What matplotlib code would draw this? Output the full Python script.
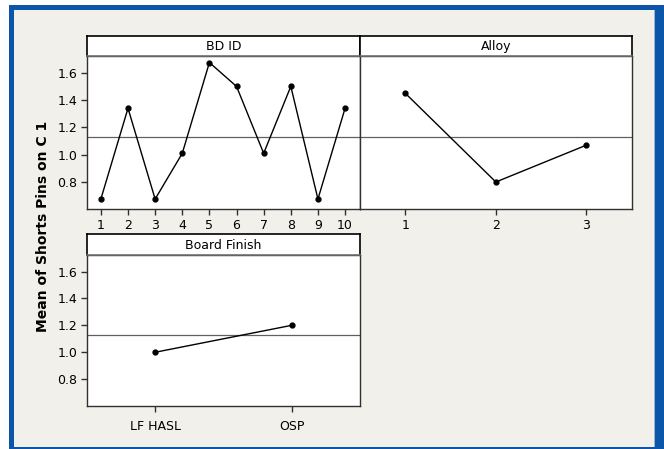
import numpy as np
import matplotlib
matplotlib.use('Agg')
import matplotlib.pyplot as plt
from matplotlib.patches import Rectangle

# main effects data
bd_ids = [1, 2, 3, 4, 5, 6, 7, 8, 9, 10]
bd_means = [0.675, 1.34, 0.675, 1.01, 1.675, 1.50, 1.01, 1.50, 0.675, 1.34]

alloys = [1, 2, 3]
alloy_means = [1.45, 0.80, 1.07]

finishes = ['LF HASL', 'OSP']
finish_means = [1.00, 1.20]

grand_mean = 1.128
y_ticks = [0.8, 1.0, 1.2, 1.4, 1.6]

W, H = 664, 449
fig = plt.figure(figsize=(W / 100, H / 100), dpi=100)
bg = '#F2F0EA'
blue = '#0B56A8'
fig.patch.set_facecolor('white')


def px(x0, y0, x1, y1):
    # pixel box (from top-left) -> figure fraction rect
    return [x0 / W, 1 - y1 / H, (x1 - x0) / W, (y1 - y0) / H]


def add_rect(x0, y0, x1, y1, color, z):
    l, b, w, h = px(x0, y0, x1, y1)
    fig.patches.append(Rectangle((l, b), w, h, transform=fig.transFigure,
                                 facecolor=color, edgecolor='none', zorder=z))


# window frame, kept behind the axes
add_rect(9, 5, 664, 449, blue, -3)
add_rect(14, 10, 655, 447, bg, -2)
add_rect(654, 10, 655, 447, '#9DB4D0', -1)


def panel(box, strip_top, title):
    x0, y0, x1, y1 = box
    ax = fig.add_axes(px(x0, y0, x1, y1))
    ax.set_facecolor('white')
    for s in ax.spines.values():
        s.set_color('#303030')
        s.set_linewidth(1.0)
    ax.axhline(grand_mean, color='#606060', lw=0.9, zorder=1)
    ax.set_ylim(0.6, 1.725)
    ax.set_yticks(y_ticks)
    ax.set_yticklabels([f'{v:.1f}' for v in y_ticks])
    ax.tick_params(length=4, width=1, color='#303030', labelsize=9, pad=3)

    st = fig.add_axes(px(x0, strip_top, x1, y0))
    st.set_facecolor('white')
    st.set_xticks([])
    st.set_yticks([])
    for s in st.spines.values():
        s.set_color('black')
        s.set_linewidth(1.2)
    st.spines['bottom'].set_color('#707070')
    st.text(0.5, 0.45, title, ha='center', va='center', fontsize=9, transform=st.transAxes)
    return ax


ax1 = panel((87.3, 55.7, 360, 209.3), 35.7, 'BD ID')
ax1.plot(bd_ids, bd_means, color='black', lw=1, marker='o', ms=3.5, zorder=3)
ax1.set_xlim(0.5, 10.55)
ax1.set_xticks(bd_ids)

ax2 = panel((360, 55.7, 631.7, 209.3), 35.7, 'Alloy')
ax2.plot(alloys, alloy_means, color='black', lw=1, marker='o', ms=3.5, zorder=3)
ax2.set_xlim(0.5, 3.5)
ax2.set_xticks(alloys)
ax2.tick_params(axis='y', left=False, labelleft=False)

ax3 = panel((87.3, 254.7, 360, 406), 234.3, 'Board Finish')
ax3.plot(range(len(finishes)), finish_means, color='black', lw=1, marker='o', ms=3.5, zorder=3)
ax3.set_xlim(-0.5, 1.5)
ax3.set_xticks(range(len(finishes)))
ax3.set_xticklabels(finishes)
ax3.tick_params(axis='x', pad=6)

fig.text(43 / W, 1 - 226 / H, 'Mean of Shorts Pins on C 1', rotation=90, ha='center', va='center',
         fontsize=10, fontweight='bold')

fig.savefig('out.png', dpi=100, facecolor=fig.get_facecolor())
